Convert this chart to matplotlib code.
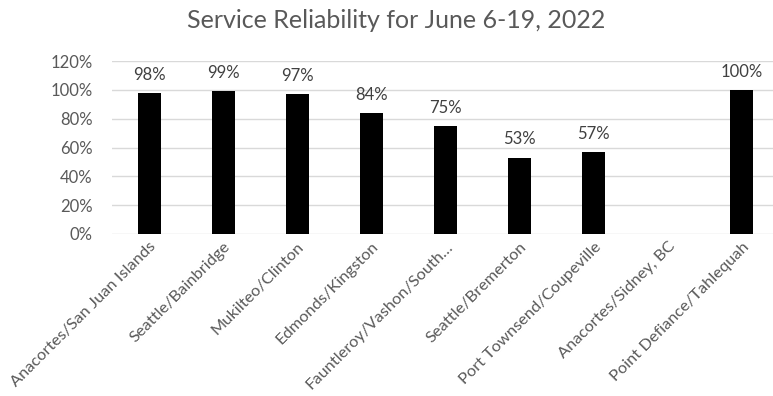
import matplotlib
matplotlib.use("Agg")
import matplotlib.pyplot as plt
import numpy as np

categories = ["Anacortes/San Juan Islands", "Seattle/Bainbridge", "Mukilteo/Clinton",
              "Edmonds/Kingston", "Fauntleroy/Vashon/South\u2026", "Seattle/Bremerton",
              "Port Townsend/Coupeville", "Anacortes/Sidney, BC", "Point Defiance/Tahlequah"]
values = [98, 99, 97, 84, 75, 53, 57, None, 100]
yticks = [0, 20, 40, 60, 80, 100, 120]

plt.rcParams['font.family'] = ['Lato', 'DejaVu Sans']
W, H = 773, 396
fig = plt.figure(figsize=(W/100, H/100), dpi=100)
left, right = 112, 779
bottom, top = 234, 61
ax = fig.add_axes([left/W, 1-bottom/H, (right-left)/W, (bottom-top)/H])

x = np.arange(len(categories))
for i, v in enumerate(values):
    if v is None:
        continue
    ax.bar(i, v, width=0.31, color='black', zorder=3)
    ax.text(i, v + 7, f"{v}%", ha='center', va='bottom', fontsize=12, color='#404040')

ax.set_xlim(-0.5, len(categories) - 0.5)
ax.set_ylim(0, 120)
ax.set_yticks(yticks)
ax.set_yticklabels([f"{t}%" for t in yticks], fontsize=12, color='#595959')
ax.set_xticks(x)
ax.set_xticklabels(categories, rotation=45, ha='right', rotation_mode='anchor',
                   fontsize=11.8, color='#595959')
ax.tick_params(axis='both', length=0)
ax.tick_params(axis='y', pad=14)
ax.tick_params(axis='x', pad=4)
for s in ax.spines.values():
    s.set_visible(False)
ax.grid(axis='y', color='#d9d9d9', linewidth=1, zorder=0)
ax.set_axisbelow(True)

fig.text(396/W, 1-20/H, "Service Reliability for June 6-19, 2022", ha='center', va='center',
         fontsize=18, color='#595959')

fig.savefig("out.png", dpi=100)
